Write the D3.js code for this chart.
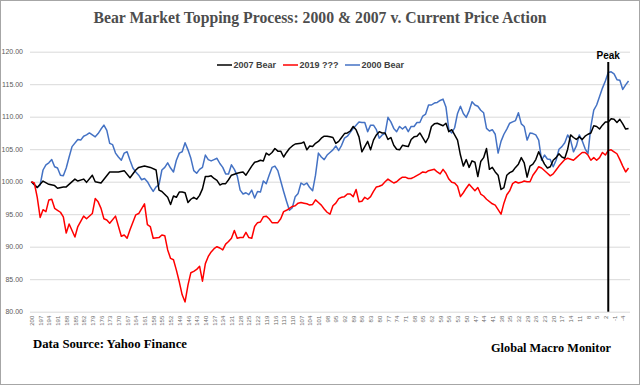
<!DOCTYPE html>
<html><head><meta charset="utf-8">
<script src="https://cdn.jsdelivr.net/npm/d3@7"></script>
<style>body{margin:0;background:#fff}svg{display:block}</style>
</head><body>
<svg id="c" width="640" height="385"></svg>
<script>
// ---- data ----
const days = d3.range(200, -7, -1); // trading days before the peak (categories)
const xTickLabels = [200,197,194,191,188,185,182,179,176,173,170,167,164,161,158,155,152,149,146,143,140,137,134,131,128,125,122,119,116,113,110,107,104,101,98,95,92,89,86,83,80,77,74,71,68,65,62,59,56,53,50,47,44,41,38,35,32,29,26,23,20,17,14,11,8,5,2,-1,-4];
const yTicks = [80,85,90,95,100,105,110,115,120];
const seriesNames = ["2007 Bear","2019 ???","2000 Bear"];
const peakDay = 1;

const bear2007 = [[200,100.0],[198,99.1],[196,100.1],[194,99.6],[192,99.4],[191,99.0],[189,99.2],[188,99.2],[185,100.4],[184,100.1],[182,100.4],[181,99.9],[179,101.0],[178,100.0],[176,99.8],[173,101.5],[170,101.5],[168,101.7],[166,100.6],[164,101.8],[163,102.2],[161,102.4],[159,102.2],[157,101.8],[156,98.7],[155,98.5],[153,97.6],[152,96.5],[151,97.8],[150,97.6],[149,98.4],[148,98.4],[147,98.3],[146,96.8],[145,97.3],[144,97.6],[143,97.3],[142,97.9],[141,98.9],[140,100.8],[139,100.8],[138,100.9],[137,100.5],[136,100.2],[135,99.5],[134,99.7],[133,99.7],[132,100.3],[131,101.0],[129,101.3],[128,101.4],[127,101.5],[126,101.0],[125,101.7],[124,102.4],[123,103.0],[122,103.1],[121,103.3],[120,103.2],[119,104.4],[118,104.1],[117,104.5],[116,105.1],[115,104.7],[114,104.7],[113,103.8],[112,104.5],[111,105.1],[110,105.5],[109,105.8],[107,105.9],[106,106.1],[105,104.9],[104,105.5],[103,105.4],[102,105.9],[101,106.2],[100,106.7],[99,107.0],[98,107.0],[97,106.9],[96,106.8],[95,105.9],[94,106.2],[93,106.8],[92,107.4],[91,107.5],[90,107.8],[89,108.5],[88,108.0],[87,106.9],[86,104.6],[85,105.4],[84,106.2],[83,104.9],[82,106.4],[81,107.2],[80,107.7],[79,107.5],[78,107.5],[77,106.5],[76,106.8],[75,105.6],[74,105.0],[73,104.9],[72,105.6],[71,105.5],[70,105.4],[69,106.5],[68,106.9],[67,107.0],[66,107.5],[64,106.0],[63,106.8],[62,108.5],[61,108.9],[60,109.0],[59,108.8],[58,108.6],[57,109.0],[56,107.7],[55,108.0],[54,107.2],[53,106.4],[52,104.1],[51,102.4],[50,103.4],[49,102.2],[48,103.2],[47,103.0],[46,100.8],[45,103.1],[44,103.7],[43,105.1],[42,101.9],[41,102.2],[40,101.5],[39,101.0],[38,98.8],[37,99.1],[36,101.0],[35,101.4],[34,101.6],[33,102.2],[32,102.7],[31,103.7],[30,102.9],[29,100.7],[28,102.4],[27,102.7],[26,103.4],[25,104.6],[24,103.6],[23,102.7],[22,102.1],[21,102.3],[20,103.3],[19,103.7],[18,104.3],[17,103.8],[16,103.6],[15,105.0],[14,107.2],[13,106.8],[12,106.5],[11,106.9],[10,106.5],[9,107.0],[8,107.3],[7,107.5],[6,108.6],[5,108.5],[4,108.1],[3,108.7],[2,109.2],[1,109.2],[0,109.7],[-1,109.6],[-2,109.1],[-3,109.6],[-4,108.9],[-5,108.1],[-6,108.2]];

const current2019 = [[200,100.0],[199,99.8],[198,97.6],[197,94.5],[196,95.7],[195,95.4],[194,97.2],[193,97.3],[192,95.9],[191,95.6],[190,95.3],[189,94.6],[188,92.1],[187,93.5],[185,91.5],[184,93.1],[182,94.7],[181,94.3],[179,95.1],[178,97.4],[177,96.9],[176,95.9],[175,94.3],[174,94.1],[173,93.6],[171,94.7],[169,91.6],[168,91.8],[167,91.3],[166,92.6],[164,94.9],[163,95.1],[161,96.6],[160,93.4],[159,93.1],[158,91.3],[156,91.4],[155,91.8],[154,91.7],[153,89.5],[152,88.2],[151,88.0],[150,86.4],[149,84.6],[148,82.6],[147,81.5],[146,84.1],[145,86.0],[144,86.2],[143,86.5],[142,87.0],[141,84.7],[140,87.4],[139,88.5],[138,89.2],[137,89.7],[136,90.0],[135,89.8],[134,89.5],[133,90.4],[132,90.8],[131,91.3],[130,92.5],[129,91.3],[128,91.4],[127,91.4],[126,92.2],[125,91.4],[124,91.3],[123,93.1],[122,93.7],[121,93.8],[120,94.6],[119,94.7],[118,94.3],[117,93.7],[115,93.7],[114,94.3],[113,95.4],[112,95.6],[111,95.9],[110,96.2],[109,96.3],[108,96.7],[107,96.8],[106,96.7],[105,96.6],[104,96.4],[103,96.5],[102,97.2],[101,96.8],[100,96.4],[99,95.8],[98,95.3],[97,95.0],[96,96.3],[95,96.7],[94,97.4],[93,97.6],[92,97.7],[91,98.1],[90,98.1],[89,97.7],[88,98.8],[87,96.9],[86,97.0],[85,97.6],[84,97.3],[83,97.7],[82,98.5],[81,99.2],[80,99.3],[79,99.5],[78,100.0],[77,100.4],[76,100.1],[75,99.8],[74,100.0],[73,100.4],[72,100.7],[71,100.7],[70,100.5],[69,100.5],[68,100.7],[66,101.2],[65,101.5],[64,101.4],[63,101.7],[62,101.8],[61,101.9],[60,101.5],[59,101.2],[58,101.9],[57,101.3],[56,100.4],[55,99.9],[54,99.8],[53,99.3],[52,97.7],[51,98.3],[50,99.0],[49,99.6],[48,99.1],[47,98.6],[46,99.1],[45,98.1],[44,97.8],[43,97.3],[41,96.6],[40,96.4],[39,95.7],[38,95.0],[37,96.7],[36,98.0],[35,98.6],[34,99.7],[33,100.0],[32,99.8],[31,99.9],[30,100.1],[29,100.0],[28,100.0],[27,101.0],[26,101.6],[25,102.3],[24,102.1],[22,101.3],[21,100.9],[20,101.2],[19,101.8],[18,102.4],[17,102.9],[16,103.4],[15,103.6],[13,103.3],[12,103.7],[11,104.1],[10,104.5],[9,104.5],[8,104.1],[7,103.3],[6,103.7],[5,103.3],[4,103.7],[3,104.5],[2,104.1],[1,104.8],[0,104.9],[-1,104.6],[-2,104.3],[-3,103.4],[-4,102.4],[-5,101.5],[-6,102.1]];

const bear2000 = [[200,100.0],[199,99.5],[198,99.1],[197,99.5],[196,101.8],[195,102.6],[194,102.9],[193,103.4],[192,102.3],[191,102.1],[190,101.0],[189,100.9],[188,102.1],[187,103.8],[186,105.4],[184,106.5],[183,106.4],[182,107.0],[181,107.2],[180,107.5],[179,107.2],[178,106.9],[177,107.4],[176,108.1],[175,108.7],[174,107.9],[173,105.9],[172,105.7],[171,104.4],[170,103.8],[169,103.3],[168,104.4],[167,104.6],[166,103.3],[165,102.1],[164,101.5],[163,101.0],[162,100.3],[161,100.5],[160,100.0],[159,99.2],[158,98.5],[157,99.2],[156,99.5],[155,101.8],[154,102.2],[153,102.9],[152,102.1],[151,101.5],[150,103.3],[149,104.4],[148,104.6],[147,106.0],[146,104.9],[145,103.6],[144,101.7],[143,101.3],[142,101.9],[141,102.2],[140,104.1],[139,103.4],[138,103.2],[137,103.4],[136,103.6],[135,102.8],[134,102.2],[133,101.2],[132,101.2],[131,102.6],[130,101.9],[129,100.9],[128,98.7],[127,98.1],[126,98.3],[125,98.0],[124,98.7],[123,97.5],[122,98.5],[121,98.4],[120,100.1],[119,99.7],[118,101.0],[117,102.2],[116,102.4],[115,101.7],[114,100.1],[113,98.5],[112,97.0],[111,95.6],[110,96.0],[109,97.7],[108,98.2],[107,99.8],[106,99.5],[105,99.8],[104,99.1],[103,98.6],[102,101.0],[101,104.4],[100,103.8],[99,103.4],[98,104.1],[97,104.5],[96,104.9],[95,105.5],[94,104.8],[93,105.6],[92,106.7],[91,107.0],[89,108.2],[88,108.7],[87,109.2],[86,109.1],[85,109.1],[84,107.7],[83,108.7],[82,108.7],[81,108.0],[80,106.7],[79,107.2],[78,107.4],[77,109.9],[76,109.2],[75,108.2],[74,107.7],[73,108.5],[72,108.1],[71,108.5],[70,107.7],[69,108.5],[68,108.5],[67,109.1],[66,109.1],[65,110.1],[64,110.4],[63,111.8],[62,111.8],[61,112.1],[60,112.2],[59,112.5],[58,112.7],[57,111.5],[56,108.0],[55,107.5],[54,108.3],[53,110.5],[52,111.6],[51,110.5],[50,109.9],[49,110.9],[48,112.3],[47,111.8],[46,111.6],[45,111.0],[44,110.6],[43,108.2],[42,107.8],[41,108.0],[40,107.3],[39,104.4],[38,106.2],[37,107.3],[36,108.1],[35,109.0],[34,109.2],[33,109.4],[32,110.6],[31,108.9],[30,108.5],[29,106.4],[28,107.5],[27,107.4],[26,107.2],[25,106.4],[24,103.3],[23,104.1],[22,103.5],[21,103.4],[20,102.3],[19,103.3],[18,105.0],[17,105.4],[16,106.0],[15,107.2],[14,106.4],[13,104.6],[12,105.5],[11,107.2],[10,106.3],[9,105.1],[8,104.3],[7,108.5],[6,111.0],[5,111.8],[4,113.1],[3,114.4],[2,115.5],[1,116.8],[0,116.9],[-1,116.6],[-2,115.7],[-3,115.6],[-4,114.2],[-5,114.9],[-6,115.5]];

// ---- chart ----
const svg = d3.select('#c');
const sans = '"Liberation Sans", Arial, sans-serif';
const serif = '"Liberation Serif", "Times New Roman", serif';

svg.append('rect').attr('x',0.5).attr('y',0.5).attr('width',639).attr('height',384)
  .attr('fill','#fff').attr('stroke','#a6a6a6');

const x = d3.scalePoint().domain(days).range([30,630]).padding(0.5);
const y = d3.scaleLinear().domain([80,120]).range([311.7,51.7]);

// y axis + gridlines
const ya = svg.append('g').attr('transform','translate(30,0)')
  .call(d3.axisLeft(y).tickValues(yTicks).tickSize(-600).tickPadding(7).tickFormat(d3.format('.2f')));
ya.select('.domain').remove();
ya.selectAll('line').attr('stroke','#d9d9d9').attr('stroke-width',1);
ya.selectAll('text').attr('font-family',sans).attr('font-size',7).attr('fill','#595959');

// x axis
const xa = svg.append('g').attr('transform','translate(0,311.7)')
  .call(d3.axisBottom(x).tickValues(xTickLabels).tickSize(0).tickPadding(0).tickFormat(d => String(d)));
xa.select('.domain').remove();
xa.selectAll('text')
  .attr('font-family',sans).attr('font-size',6).attr('fill','#6b6b6b')
  .attr('transform','rotate(-90)').attr('text-anchor','end')
  .attr('x',-4).attr('y',0).attr('dy','0.35em');

// lines
const line = d3.line().x(d => x(d[0])).y(d => y(d[1]));
const colors = ['#000000','#ff0000','#4472c4'];
const allSeries = [bear2007, current2019, bear2000];
[2,0,1].forEach(i => {
  svg.append('path').datum(allSeries[i]).attr('d',line)
    .attr('fill','none').attr('stroke',colors[i]).attr('stroke-width',1.5)
    .attr('stroke-linejoin','round');
});

// peak marker
svg.append('line').attr('x1',x(peakDay)).attr('x2',x(peakDay))
  .attr('y1',62).attr('y2',y(80)).attr('stroke','#000').attr('stroke-width',2);
svg.append('text').attr('x',x(peakDay)).attr('y',59).attr('text-anchor','middle')
  .attr('font-family',sans).attr('font-weight','bold').attr('font-size',10).attr('fill','#000')
  .text('Peak');

// legend
const legX = [217,283,345];
seriesNames.forEach((n,i) => {
  svg.append('line').attr('x1',legX[i]).attr('x2',legX[i]+15).attr('y1',65).attr('y2',65)
    .attr('stroke',colors[i]).attr('stroke-width',1.5);
  svg.append('text').attr('x',legX[i]+16.5).attr('y',68.2)
    .attr('font-family',sans).attr('font-weight','bold').attr('font-size',9).attr('fill','#404040')
    .text(n);
});

// title & notes
svg.append('text').attr('x',320).attr('y',23).attr('text-anchor','middle')
  .attr('font-family',serif).attr('font-weight','bold').attr('font-size',16).attr('fill','#4d4d4d')
  .attr('textLength',453).attr('lengthAdjust','spacingAndGlyphs')
  .text('Bear Market Topping Process: 2000 & 2007 v. Current Price Action');
svg.append('text').attr('x',33).attr('y',348)
  .attr('font-family',serif).attr('font-weight','bold').attr('font-size',13).attr('fill','#000')
  .attr('textLength',154).attr('lengthAdjust','spacingAndGlyphs')
  .text('Data Source: Yahoo Finance');
svg.append('text').attr('x',491).attr('y',352)
  .attr('font-family',serif).attr('font-weight','bold').attr('font-size',13).attr('fill','#000')
  .attr('textLength',120).attr('lengthAdjust','spacingAndGlyphs')
  .text('Global Macro Monitor');
</script>
</body></html>
